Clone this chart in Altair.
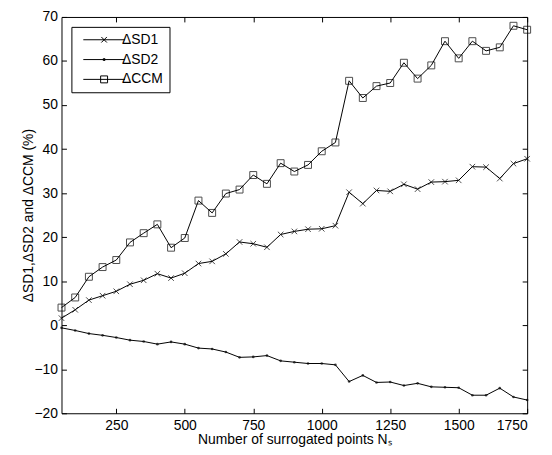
import altair as alt
import pandas as pd

ns = list(range(50, 1800, 50))
sd1 = [1.6, 3.5, 5.7, 6.7, 7.7, 9.3, 10.2, 11.7, 10.7, 11.8, 14.0, 14.5, 16.2, 18.9, 18.5,
       17.7, 20.6, 21.3, 21.8, 21.9, 22.6, 30.2, 27.6, 30.6, 30.4, 32.0, 30.9, 32.5, 32.6,
       32.9, 36.0, 35.9, 33.3, 36.7, 37.8]
sd2 = [-0.6, -1.2, -1.9, -2.3, -2.8, -3.4, -3.7, -4.3, -3.8, -4.3, -5.2, -5.4, -6.1, -7.3,
       -7.2, -6.9, -8.1, -8.4, -8.7, -8.7, -9.0, -12.8, -11.4, -13.0, -12.9, -13.7, -13.2,
       -14.0, -14.1, -14.2, -15.9, -15.9, -14.3, -16.3, -17.0]
ccm = [4.0, 6.3, 11.0, 13.2, 14.8, 18.8, 20.9, 22.9, 17.6, 19.8, 28.3, 25.5, 29.9, 30.8, 34.1,
       32.1, 36.8, 34.9, 36.4, 39.5, 41.5, 55.5, 51.6, 54.3, 55.0, 59.6, 56.0, 59.0, 64.5,
       60.6, 64.5, 62.3, 63.1, 68.0, 67.1]
series_names = ["ΔSD1", "ΔSD2", "ΔCCM"]
x_ticks = [250, 500, 750, 1000, 1250, 1500, 1750]
y_ticks = [-20, -10, 0, 10, 20, 30, 40, 50, 60, 70]

rows = []
for name, vals in zip(series_names, [sd1, sd2, ccm]):
    for x, v in zip(ns, vals):
        rows.append({"Ns": x, "value": v, "series": name})
df = pd.DataFrame(rows)

FONT = "Liberation Sans"
xscale = alt.Scale(domain=[50, 1750], nice=False, zero=False)
yscale = alt.Scale(domain=[-20, 70], nice=False, zero=False)

CROSS = "M-0.8,-0.8L0.8,0.8M-0.8,0.8L0.8,-0.8"
legend_paths = [
    "M-6,0H6" + CROSS,
    "M-6,0H6M-0.25,-0.25H0.25V0.25H-0.25Z",
    "M-6,0H6M-1,-1H1V1H-1Z",
]

base = alt.Chart(df)

lines = base.mark_line(color="black", strokeWidth=1).encode(
    x=alt.X("Ns:Q", scale=xscale,
            axis=alt.Axis(orient="bottom", values=x_ticks, format="d", offset=-5, tickSize=5,
                          domain=False, grid=False, labelPadding=5,
                          title="Number of surrogated points Nₛ", titlePadding=1)),
    y=alt.Y("value:Q", scale=yscale,
            axis=alt.Axis(orient="left", values=y_ticks, format="d", offset=-5, tickSize=5,
                          domain=False, grid=False, labelPadding=4,
                          title="ΔSD1,ΔSD2 and ΔCCM (%)", titlePadding=-1)),
    detail="series:N",
)

def pts(name, **mk):
    return base.transform_filter(alt.datum.series == name).mark_point(
        color="black", strokeWidth=1, **mk
    ).encode(
        x=alt.X("Ns:Q", scale=xscale, axis=None),
        y=alt.Y("value:Q", scale=yscale, axis=None),
    )

p1 = pts("ΔSD1", shape=CROSS, size=49, filled=False)
p2 = pts("ΔSD2", shape="circle", size=7, filled=True)
p3 = pts("ΔCCM", shape="square", size=49, filled=False)

legend_layer = base.mark_point(color="black", opacity=0, filled=False, size=49).encode(
    x=alt.X("Ns:Q", scale=xscale,
            axis=alt.Axis(orient="top", values=x_ticks, offset=-5, tickSize=5,
                          labels=False, domain=False, grid=False, title=None)),
    y=alt.Y("value:Q", scale=yscale,
            axis=alt.Axis(orient="right", values=y_ticks, offset=-5, tickSize=5,
                          labels=False, domain=False, grid=False, title=None)),
    shape=alt.Shape("series:N",
                    scale=alt.Scale(domain=series_names, range=legend_paths),
                    sort=series_names,
                    legend=alt.Legend(title=None, orient="none", legendX=10, legendY=10,
                                      strokeColor="black", fillColor="white", padding=6,
                                      symbolSize=49, symbolStrokeWidth=1,
                                      symbolStrokeColor="black", symbolFillColor="transparent",
                                      symbolOpacity=1, symbolOffset=20, labelOffset=11,
                                      labelFont=FONT, labelFontSize=14, labelColor="black",
                                      rowPadding=6)),
)

chart = alt.layer(lines, p1, p2, p3, legend_layer).resolve_axis(
    x="independent", y="independent"
).properties(
    width=470, height=400,
    padding={"left": 54, "top": 7, "right": 17, "bottom": 32},
    autosize=alt.AutoSizeParams(type="none"),
).configure_view(
    stroke="black", strokeWidth=1
).configure_axis(
    labelFont=FONT, titleFont=FONT, labelFontSize=14, titleFontSize=14,
    tickColor="black", labelColor="black", titleColor="black", titleFontWeight="normal",
)

chart.save("out.html", embed_options={"renderer": "svg", "actions": False})
